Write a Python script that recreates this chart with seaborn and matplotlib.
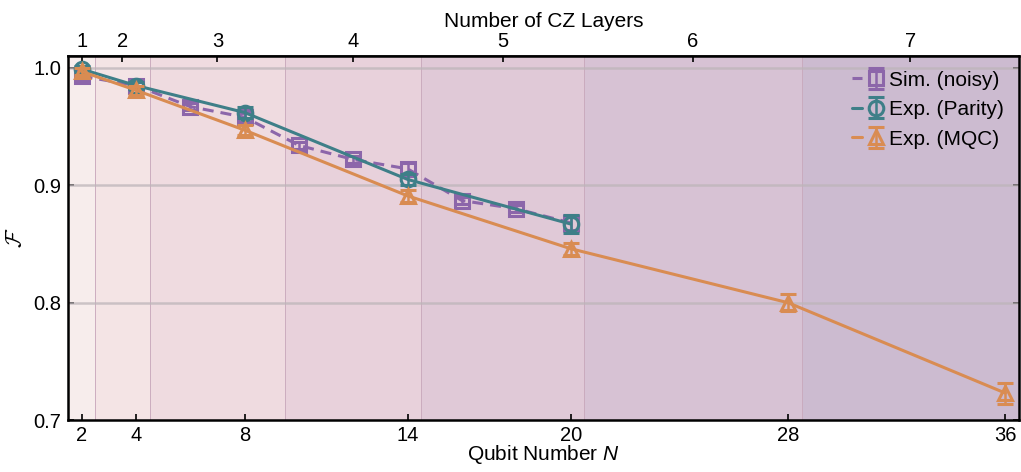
import numpy as np
import pandas as pd
import seaborn as sns
import matplotlib
matplotlib.use("Agg")
import matplotlib.pyplot as plt
from matplotlib.legend_handler import HandlerTuple

# ---- data ----
sim_n = [2, 4, 6, 8, 10, 12, 14, 16, 18, 20]
sim_f = [0.993, 0.985, 0.967, 0.958, 0.934, 0.922, 0.914, 0.887, 0.880, 0.868]
sim_err = [0.004, 0.003, 0.003, 0.004, 0.003, 0.003, 0.005, 0.003, 0.003, 0.007]

par_n = [2, 4, 8, 14, 20]
par_f = [0.999, 0.985, 0.962, 0.905, 0.867]
par_err = [0.003, 0.003, 0.005, 0.005, 0.008]

mqc_n = [2, 4, 8, 14, 20, 28, 36]
mqc_f = [0.997, 0.981, 0.947, 0.891, 0.846, 0.800, 0.723]
mqc_err = [0.003, 0.004, 0.004, 0.005, 0.005, 0.007, 0.009]

# CZ-layer groups: boundaries in qubit number, and top-axis labels
layer_edges = [1.5, 2.5, 4.5, 9.5, 14.5, 20.5, 28.5, 36.5]
layer_labels = ["1", "2", "3", "4", "5", "6", "7"]
layer_colors = ["#F7EDEC", "#F4E4E5", "#EFDBE0", "#E8D1DB", "#E0C9D7", "#D7C2D4", "#CCBBD0"]

bottom_ticks = [2, 4, 8, 14, 20, 28, 36]
y_ticks = [0.7, 0.8, 0.9, 1.0]

c_sim = "#8C66AA"
c_par = "#3E7F88"
c_mqc = "#D98C52"

sns.set_theme(style="ticks")
plt.rcParams["font.family"] = ["Liberation Sans", "DejaVu Sans"]
plt.rcParams["mathtext.fontset"] = "custom"
plt.rcParams["mathtext.it"] = "Liberation Sans:italic"
plt.rcParams["mathtext.rm"] = "Liberation Sans"
plt.rcParams["mathtext.cal"] = "cmsy10"
for key in ["text.color", "axes.labelcolor", "xtick.color", "ytick.color"]:
    plt.rcParams[key] = "black"

fig = plt.figure(figsize=(10.21, 4.72), dpi=100)
ax = fig.add_axes([0.0666, 0.110, 0.9314, 0.771])

# background spans for each CZ layer
for i in range(len(layer_labels)):
    ax.axvspan(layer_edges[i], layer_edges[i + 1], facecolor=layer_colors[i],
               edgecolor="#C9A9BC", linewidth=0.6, zorder=0)

# horizontal grid
for yv in y_ticks[1:]:
    ax.axhline(yv, color="#BDB5B9", lw=1.8, alpha=0.75, zorder=1)

series = [
    ("Sim. (noisy)", sim_n, sim_f, sim_err, c_sim, "s", (0, (3.6, 2.3))),
    ("Exp. (Parity)", par_n, par_f, par_err, c_par, "o", "-"),
    ("Exp. (MQC)", mqc_n, mqc_f, mqc_err, c_mqc, "^", "-"),
]

handles = []
labels = []
for k, (lab, xs, ys, es, col, mk, ls) in enumerate(series):
    df = pd.DataFrame({"N": xs, "F": ys})
    sns.lineplot(data=df, x="N", y="F", ax=ax, color=col, lw=2.2,
                 linestyle=ls, legend=False, zorder=3 + k)
    line = ax.lines[-1]
    cont = ax.errorbar(xs, ys, yerr=es, fmt=mk, ms=10.5, mfc="none", mec=col,
                       mew=2.2, ecolor=col, elinewidth=1.8, capsize=5.5,
                       capthick=1.8, color=col, zorder=3 + k)
    handles.append((line, cont))
    labels.append(lab)

ax.set_xlim(1.5, 36.5)
ax.set_ylim(0.7, 1.01)
ax.set_xticks(bottom_ticks)
ax.set_yticks(y_ticks)
ax.set_yticklabels([f"{v:.1f}" for v in y_ticks])
ax.set_xlabel("Qubit Number $N$", fontsize=15, labelpad=-1)
ax.set_ylabel("$\\mathcal{F}$", fontsize=16, labelpad=4)
ax.tick_params(axis="both", direction="in", length=4, width=1.2,
               labelsize=14.5, pad=4, right=True, color="black")
ax.tick_params(axis="y", pad=5)

for sp in ax.spines.values():
    sp.set_linewidth(1.8)
    sp.set_color("black")
    sp.set_visible(True)

# top axis: number of CZ layers at span centres
centers = [(layer_edges[i] + layer_edges[i + 1]) / 2 for i in range(len(layer_labels))]
centers[0] = 2.0
top = ax.secondary_xaxis("top")
top.set_xticks(centers)
top.set_xticklabels(layer_labels)
top.tick_params(direction="in", length=4, width=1.2, labelsize=14.5, pad=4)
top.set_xlabel("Number of CZ Layers", fontsize=15, labelpad=3)

ax.legend(handles, labels, handler_map={tuple: HandlerTuple(ndivide=None)},
          loc="upper right", frameon=False, fontsize=15, handlelength=1.4,
          handletextpad=0.4, borderaxespad=0.3, labelspacing=0.5)

fig.savefig("out.png", dpi=100)
